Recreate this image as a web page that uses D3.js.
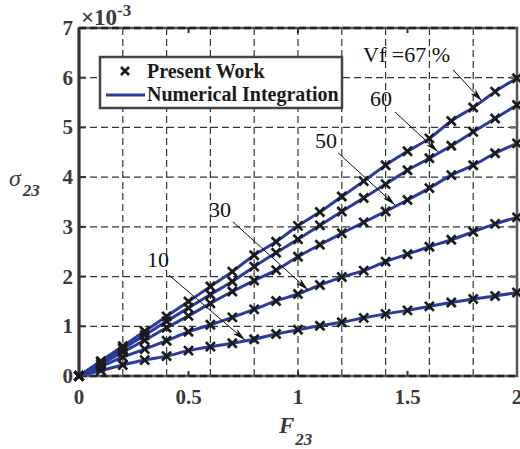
<!DOCTYPE html>
<html>
<head>
<meta charset="utf-8">
<script src="https://cdn.jsdelivr.net/npm/d3@7"></script>
<style>
  body { margin: 0; background: #fff; }
  svg text { font-family: "Liberation Serif", "Times New Roman", serif; }
  .tick-lbl { font-size: 21px; font-weight: bold; fill: #3a3a3a; }
  .note { font-size: 22px; fill: #111; }
</style>
</head>
<body>
<div id="viz"></div>
<script>
// F23 values where both results are sampled
var f23 = [0, 0.1, 0.2, 0.3, 0.4, 0.5, 0.6, 0.7, 0.8, 0.9, 1.0,
           1.1, 1.2, 1.3, 1.4, 1.5, 1.6, 1.7, 1.8, 1.9, 2.0];

// sigma23 (x 1e-3) for each fibre volume fraction
var vf10 = [0, 0.11, 0.22, 0.32, 0.40, 0.51, 0.59, 0.66, 0.74, 0.845, 0.93,
            1.01, 1.08, 1.17, 1.25, 1.32, 1.40, 1.48, 1.55, 1.61, 1.68];
var vf30 = [0, 0.19, 0.38, 0.54, 0.71, 0.89, 1.03, 1.18, 1.34, 1.51, 1.65,
            1.83, 1.99, 2.12, 2.30, 2.45, 2.60, 2.74, 2.90, 3.06, 3.19];
var vf50 = [0, 0.24, 0.48, 0.72, 0.97, 1.21, 1.46, 1.70, 1.92, 2.13, 2.40,
            2.64, 2.87, 3.09, 3.31, 3.54, 3.78, 4.04, 4.24, 4.48, 4.68];
var vf60 = [0, 0.28, 0.55, 0.82, 1.10, 1.37, 1.64, 1.90, 2.20, 2.48, 2.75,
            3.03, 3.31, 3.58, 3.86, 4.14, 4.38, 4.63, 4.91, 5.18, 5.45];
var vf67 = [0, 0.30, 0.60, 0.90, 1.20, 1.50, 1.80, 2.10, 2.43, 2.70, 3.02,
            3.30, 3.61, 3.92, 4.24, 4.52, 4.78, 5.13, 5.40, 5.72, 5.99];

var seriesList = [vf10, vf30, vf50, vf60, vf67];

var xTicks = [0, 0.5, 1, 1.5, 2];
var xTickLabels = ["0", "0.5", "1", "1.5", "2"];
var xGrid = [0.2, 0.4, 0.6, 0.8, 1.0, 1.2, 1.4, 1.6, 1.8];
var yTicks = [0, 1, 2, 3, 4, 5, 6, 7];
var legendLabels = ["Present Work", "Numerical Integration"];

// labels with arrows, in data units: text pos, arrow start, arrow end
var notes = [
  {label: "Vf =67 %", tx: 1.297, ty: 6.32, x1: 1.708, y1: 6.16, x2: 1.840, y2: 5.53},
  {label: "60",       tx: 1.329, ty: 5.43, x1: 1.443, y1: 5.31, x2: 1.639, y2: 4.51},
  {label: "50",       tx: 1.078, ty: 4.59, x1: 1.183, y1: 4.49, x2: 1.443, y2: 3.44},
  {label: "30",       tx: 0.594, ty: 3.20, x1: 0.703, y1: 3.10, x2: 1.046, y2: 1.73},
  {label: "10",       tx: 0.311, ty: 2.19, x1: 0.411, y1: 2.03, x2: 0.758, y2: 0.724}
];

var W = 520, H = 449;
var pl = 79, pr = 517, pt = 28, pb = 376;
var blue = "#2b3a9e";

var x = d3.scaleLinear().domain([0, 2]).range([pl, pr]);
var y = d3.scaleLinear().domain([0, 7]).range([pb, pt]);

var svg = d3.select("#viz").append("svg")
  .attr("width", W).attr("height", H);

svg.append("defs").append("marker")
  .attr("id", "arr")
  .attr("viewBox", "0 0 12 6")
  .attr("refX", 12).attr("refY", 3)
  .attr("markerWidth", 13).attr("markerHeight", 6.5)
  .attr("markerUnits", "userSpaceOnUse")
  .attr("orient", "auto")
  .append("path").attr("d", "M0,0 L12,3 L0,6 L3,3 Z").attr("fill", "#111");

// grid
svg.append("g").selectAll("line").data(xGrid).enter().append("line")
  .attr("x1", function(d) { return x(d); }).attr("x2", function(d) { return x(d); })
  .attr("y1", pt).attr("y2", pb)
  .attr("stroke", "#333").attr("stroke-width", 1.2).attr("stroke-dasharray", "7,4");
svg.append("g").selectAll("line").data(yTicks.slice(1, -1)).enter().append("line")
  .attr("x1", pl).attr("x2", pr)
  .attr("y1", function(d) { return y(d); }).attr("y2", function(d) { return y(d); })
  .attr("stroke", "#333").attr("stroke-width", 1.2).attr("stroke-dasharray", "7,4");

// frame
svg.append("rect")
  .attr("x", pl).attr("y", pt).attr("width", pr - pl).attr("height", pb - pt)
  .attr("fill", "none").attr("stroke", "#555").attr("stroke-width", 2.5);
svg.append("line").attr("x1", pl).attr("x2", pr).attr("y1", pt).attr("y2", pt)
  .attr("stroke", "#222").attr("stroke-width", 2.5).attr("stroke-dasharray", "7,4");
svg.append("line").attr("x1", pl).attr("x2", pr).attr("y1", pb).attr("y2", pb)
  .attr("stroke", "#222").attr("stroke-width", 2.5).attr("stroke-dasharray", "7,4");
svg.append("line").attr("x1", pl).attr("x2", pl).attr("y1", pt).attr("y2", pb)
  .attr("stroke", "#333").attr("stroke-width", 3);

// ticks
svg.append("g").selectAll("line").data(xTicks.slice(1, -1)).enter().append("line")
  .attr("x1", function(d) { return x(d); }).attr("x2", function(d) { return x(d); })
  .attr("y1", pb).attr("y2", pb - 5).attr("stroke", "#333").attr("stroke-width", 2);
svg.append("g").selectAll("line").data(xTicks.slice(1, -1)).enter().append("line")
  .attr("x1", function(d) { return x(d); }).attr("x2", function(d) { return x(d); })
  .attr("y1", pt).attr("y2", pt + 5).attr("stroke", "#333").attr("stroke-width", 2);
svg.append("g").selectAll("line").data(yTicks.slice(1, -1)).enter().append("line")
  .attr("x1", pl).attr("x2", pl + 7)
  .attr("y1", function(d) { return y(d); }).attr("y2", function(d) { return y(d); })
  .attr("stroke", "#333").attr("stroke-width", 2);
svg.append("g").selectAll("line").data(yTicks.slice(1, -1)).enter().append("line")
  .attr("x1", pr).attr("x2", pr - 7)
  .attr("y1", function(d) { return y(d); }).attr("y2", function(d) { return y(d); })
  .attr("stroke", "#666").attr("stroke-width", 2.5);

// tick labels
svg.append("g").selectAll("text").data(xTicks).enter().append("text")
  .attr("class", "tick-lbl")
  .attr("x", function(d) { return x(d); }).attr("y", 404)
  .attr("text-anchor", "middle")
  .text(function(d, i) { return xTickLabels[i]; });
svg.append("g").selectAll("text").data(yTicks).enter().append("text")
  .attr("class", "tick-lbl")
  .attr("x", 73).attr("y", function(d) { return y(d) + 7; })
  .attr("text-anchor", "end")
  .text(function(d) { return d; });

// exponent
var ex = svg.append("text").attr("x", 81).attr("y", 25)
  .style("font-size", "23px").style("font-weight", "bold").style("fill", "#3a3a3a");
ex.append("tspan").text("\u00d710");
ex.append("tspan").attr("dy", -9).style("font-size", "17px").text("-3");

// axis titles
var yt = svg.append("text").attr("x", 9).attr("y", 186).style("fill", "#3a3a3a");
yt.append("tspan").style("font-size", "24px").style("font-style", "italic").text("\u03c3");
yt.append("tspan").attr("dx", 2).attr("dy", 10).style("font-size", "17px")
  .style("font-style", "italic").style("font-weight", "bold").text("23");
var xt = svg.append("text").attr("x", 279).attr("y", 433).style("fill", "#3a3a3a");
xt.append("tspan").style("font-size", "23px").style("font-style", "italic")
  .style("font-weight", "bold").text("F");
xt.append("tspan").attr("dx", 1).attr("dy", 12).style("font-size", "17px")
  .style("font-style", "italic").style("font-weight", "bold").text("23");

// curves
var line = d3.line()
  .x(function(d, i) { return x(f23[i]); })
  .y(function(d) { return y(d); })
  .curve(d3.curveMonotoneX);

svg.append("g").selectAll("path").data(seriesList).enter().append("path")
  .attr("d", line)
  .attr("fill", "none").attr("stroke", blue).attr("stroke-width", 3);

function cross(g, cx, cy, s) {
  g.append("path")
    .attr("d", "M" + (cx - s) + "," + (cy - s) + "L" + (cx + s) + "," + (cy + s) +
               "M" + (cx - s) + "," + (cy + s) + "L" + (cx + s) + "," + (cy - s))
    .attr("stroke", "#1a1a1a").attr("stroke-width", 2.7).attr("fill", "none");
}

var mk = svg.append("g");
seriesList.forEach(function(s) {
  s.forEach(function(v, i) { cross(mk, x(f23[i]), y(v), 4.5); });
});

// annotations
var ng = svg.append("g");
notes.forEach(function(n) {
  ng.append("text").attr("class", "note")
    .attr("x", x(n.tx)).attr("y", y(n.ty)).text(n.label);
  ng.append("line")
    .attr("x1", x(n.x1)).attr("y1", y(n.y1))
    .attr("x2", x(n.x2)).attr("y2", y(n.y2))
    .attr("stroke", "#111").attr("stroke-width", 1)
    .attr("marker-end", "url(#arr)");
});

// legend
var lg = svg.append("g");
lg.append("rect").attr("x", 100).attr("y", 57).attr("width", 242).attr("height", 51)
  .attr("fill", "#fff").attr("stroke", "#444").attr("stroke-width", 2.5);
cross(lg, 125, 71, 4);
lg.append("line").attr("x1", 106).attr("x2", 145).attr("y1", 95).attr("y2", 95)
  .attr("stroke", blue).attr("stroke-width", 3);
lg.selectAll("text.lg").data(legendLabels).enter().append("text")
  .attr("x", 147).attr("y", function(d, i) { return 78 + i * 23; })
  .style("font-size", "20px").style("font-weight", "bold").style("fill", "#1a1a1a")
  .text(function(d) { return d; });
</script>
</body>
</html>
